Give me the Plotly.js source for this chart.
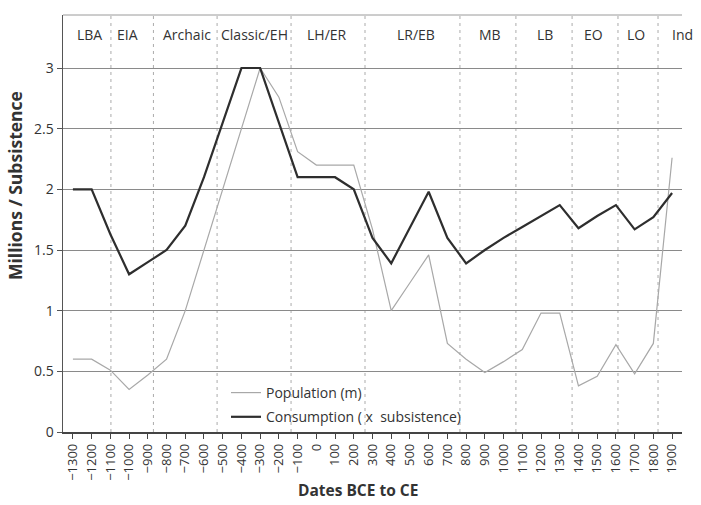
<!DOCTYPE html>
<html>
<head>
<meta charset="utf-8">
<script src="https://cdn.plot.ly/plotly-3.0.1.min.js"></script>
<style>html,body{margin:0;padding:0;background:#fff;}#chart{width:701px;height:505px;}</style>
</head>
<body>
<div id="chart"></div>
<script>
// Data
const years = [-1300,-1200,-1100,-1000,-900,-800,-700,-600,-500,-400,-300,-200,-100,0,100,200,300,400,500,600,700,800,900,1000,1100,1200,1300,1400,1500,1600,1700,1800,1900];
const population = [0.6,0.6,0.51,0.35,0.47,0.6,1.0,1.5,2.0,2.5,3.0,2.76,2.31,2.2,2.2,2.2,1.67,1.0,1.23,1.46,0.73,0.6,0.49,0.58,0.68,0.98,0.98,0.38,0.46,0.72,0.48,0.73,2.26];
const consumption = [2.0,2.0,1.63,1.3,1.4,1.5,1.7,2.1,2.55,3.0,3.0,2.55,2.1,2.1,2.1,2.0,1.6,1.39,1.69,1.98,1.6,1.39,1.5,1.6,1.69,1.78,1.87,1.68,1.78,1.87,1.67,1.77,1.97];
const periodBounds = [-1097,-870,-530,-135,260,767,1066,1366,1611,1825];
const periodLabels = ['LBA','EIA','Archaic','Classic/EH','LH/ER','LR/EB','MB','LB','EO','LO','Ind'];
const periodLabelX = [-1209,-1006,-691,-328,57,532,928,1221,1478,1708,1953];
const tickVals = [-1300,-1200,-1100,-1000,-900,-800,-700,-600,-500,-400,-300,-200,-100,0,100,200,300,400,500,600,700,800,900,1000,1100,1200,1300,1400,1500,1600,1700,1800,1900];

const FONT = 'Open Sans, Noto Sans, DejaVu Sans, sans-serif';

const traces = [
  {x: years, y: population, name: 'Population (m)', type: 'scatter', mode: 'lines',
   legendgroup: 'a', line: {color: '#a8a8a8', width: 1.2}},
  {x: years, y: consumption, name: 'Consumption ( x  subsistence)', type: 'scatter', mode: 'lines',
   legendgroup: 'b', line: {color: '#2e2e2e', width: 2.2}}
];

const shapes = periodBounds.map(b => ({
  type: 'line', xref: 'x', yref: 'paper', x0: b, x1: b, y0: 0, y1: 1,
  line: {color: '#ababab', width: 1, dash: '3px,4px'}, layer: 'below'
}));
shapes.push({type: 'line', xref: 'paper', yref: 'paper', x0: 0, x1: 1, y0: 1, y1: 1,
  line: {color: '#9a9a9a', width: 1}, layer: 'below'});

const annotations = periodLabels.map((t, i) => ({
  text: t, x: periodLabelX[i], xref: 'x', y: 3.28, yref: 'y', showarrow: false,
  font: {family: FONT, size: 14, color: '#333'}, xanchor: 'center', yanchor: 'middle'
}));
annotations.push({text: '<b>Dates BCE to CE</b>', xref: 'paper', yref: 'paper',
  x: (358 - 63) / 619, y: -(490 - 432) / 417, showarrow: false,
  font: {family: FONT, size: 15.5, color: '#333'}, xanchor: 'center', yanchor: 'middle'});
annotations.push({text: '<b>Millions / Subsistence</b>', xref: 'paper', yref: 'paper',
  x: -(63 - 15) / 619, y: (432 - 186) / 417, showarrow: false, textangle: -90,
  font: {family: FONT, size: 17.5, color: '#333'}, xanchor: 'center', yanchor: 'middle'});

const layout = {
  width: 701, height: 505,
  margin: {l: 63, r: 19, t: 15, b: 73},
  paper_bgcolor: '#fff', plot_bgcolor: '#fff',
  font: {family: FONT, color: '#333'},
  showlegend: true,
  legend: {x: (226 - 63) / 619, y: (432 - 377) / 417, xanchor: 'left', yanchor: 'top',
    bgcolor: 'rgba(0,0,0,0)', font: {family: FONT, size: 14, color: '#333'},
    traceorder: 'grouped', tracegroupgap: 3},
  xaxis: {range: [-1353, 1953], tickmode: 'array', tickvals: tickVals,
    ticktext: tickVals.map(v => v < 0 ? '\u2212' + Math.abs(v) : String(v)),
    tickangle: -90, tickfont: {family: FONT, size: 13, color: '#333'},
    showgrid: false, zeroline: false, showline: true, linecolor: '#444', linewidth: 1.5,
    ticks: 'outside', ticklen: 5, tickcolor: '#444'},
  yaxis: {range: [0, 3.437], tickmode: 'array', tickvals: [0,0.5,1,1.5,2,2.5,3],
    ticktext: ['0','0.5','1','1.5','2','2.5','3'],
    tickfont: {family: FONT, size: 14, color: '#333'},
    showgrid: true, gridcolor: '#8a8a8a', gridwidth: 1, zeroline: false,
    showline: true, linecolor: '#555', linewidth: 1.5, ticks: 'outside', ticklen: 5, tickcolor: '#555'},
  shapes: shapes,
  annotations: annotations
};

Plotly.newPlot('chart', traces, layout, {displayModeBar: false, staticPlot: true});
</script>
</body>
</html>
